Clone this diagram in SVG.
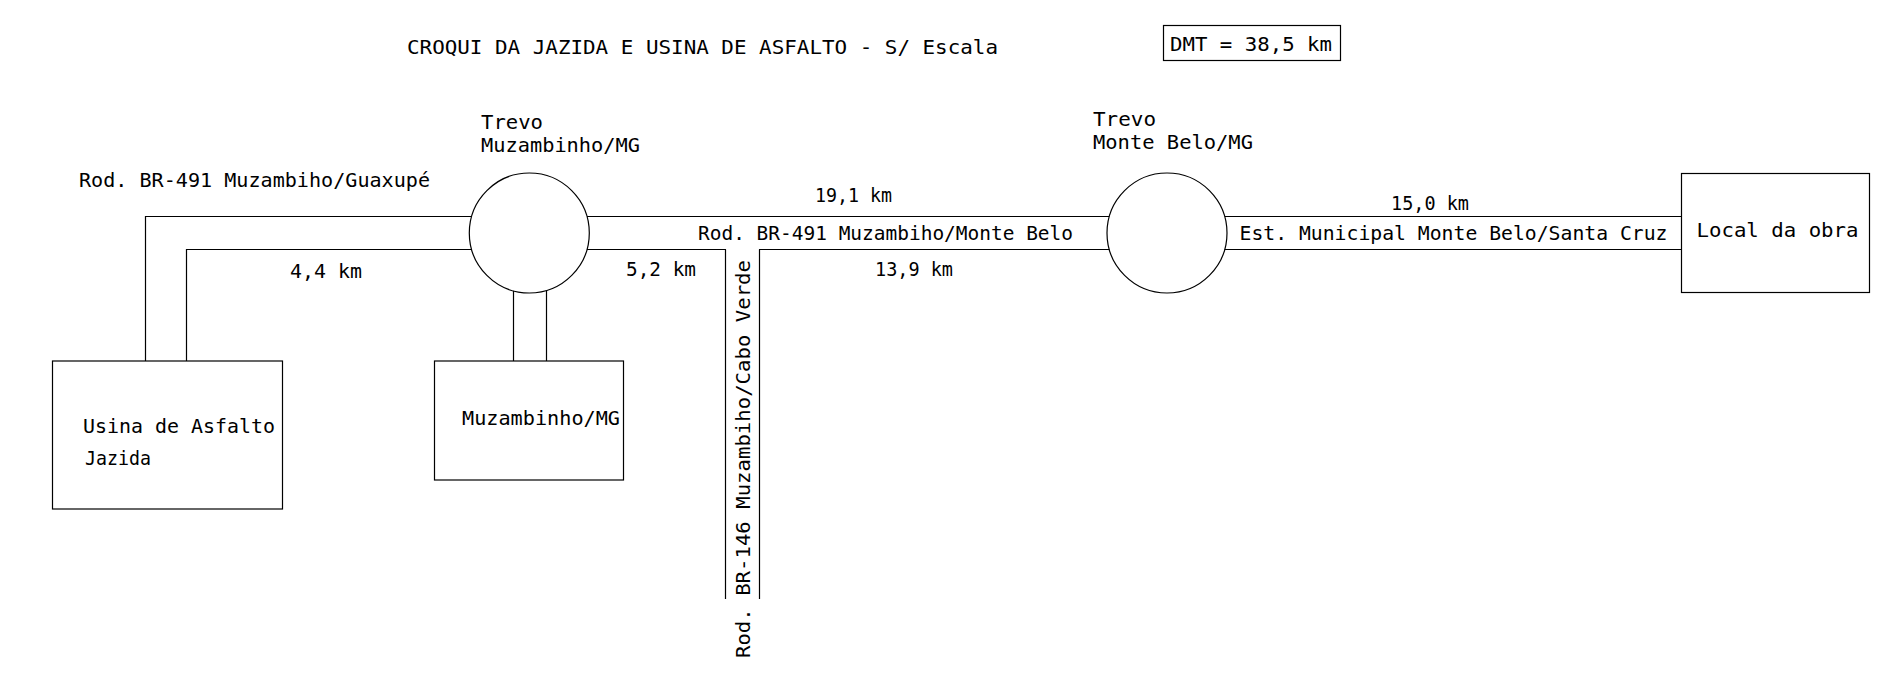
<svg xmlns="http://www.w3.org/2000/svg" width="1877" height="675" viewBox="0 0 1877 675">
<style>
.bg{fill:#ffffff}
.ln{fill:none;stroke:#000;stroke-width:1.2}
.bx{fill:#fff;stroke:#000;stroke-width:1.2}
.t{font-family:"DejaVu Sans Mono","Liberation Mono",monospace;font-size:19px;fill:#000}
</style>
<rect class="bg" x="0" y="0" width="1877" height="675"/>
<g id="title">
<text class="t" x="407" y="54" textLength="591" lengthAdjust="spacingAndGlyphs">CROQUI DA JAZIDA E USINA DE ASFALTO - S/ Escala</text>
</g>
<g id="dmt">
<rect class="bx" x="1163.5" y="25.5" width="177" height="35"/>
<text class="t" x="1170" y="51" textLength="162" lengthAdjust="spacingAndGlyphs">DMT = 38,5 km</text>
</g>
<g id="connectors">
<path class="ln" d="M471.6 216.5 H145.5 V361"/>
<path class="ln" d="M471.6 249.5 H186.5 V361"/>
<path class="ln" d="M513.5 290.8 V361"/>
<path class="ln" d="M546.5 290.4 V361"/>
<path class="ln" d="M587 216.5 H1109.3"/>
<path class="ln" d="M587 249.5 H726"/>
<path class="ln" d="M759 249.5 H1109.3"/>
<path class="ln" d="M725.5 249.5 V599"/>
<path class="ln" d="M759.5 249.5 V599"/>
<path class="ln" d="M1224.7 216.5 H1681"/>
<path class="ln" d="M1224.7 249.5 H1681"/>
</g>
<g id="trevo-muzambinho">
<circle class="ln" cx="529.3" cy="233" r="60"/>
<text class="t" x="481" y="129" textLength="62" lengthAdjust="spacingAndGlyphs">Trevo</text>
<text class="t" x="481" y="151.5" textLength="159" lengthAdjust="spacingAndGlyphs">Muzambinho/MG</text>
</g>
<g id="trevo-montebelo">
<circle class="ln" cx="1167" cy="233" r="60"/>
<text class="t" x="1093" y="126" textLength="63" lengthAdjust="spacingAndGlyphs">Trevo</text>
<text class="t" x="1093" y="149" textLength="160" lengthAdjust="spacingAndGlyphs">Monte Belo/MG</text>
</g>
<g id="usina">
<rect class="bx" x="52.5" y="361" width="230" height="148"/>
<text class="t" x="83" y="433" textLength="192" lengthAdjust="spacingAndGlyphs">Usina de Asfalto</text>
<text class="t" x="85" y="465" textLength="66" lengthAdjust="spacingAndGlyphs">Jazida</text>
</g>
<g id="muzambinho">
<rect class="bx" x="434.5" y="361" width="189" height="119"/>
<text class="t" x="462" y="425" textLength="158" lengthAdjust="spacingAndGlyphs">Muzambinho/MG</text>
</g>
<g id="local-obra">
<rect class="bx" x="1681.5" y="173.5" width="188" height="119"/>
<text class="t" x="1696.5" y="237" textLength="162" lengthAdjust="spacingAndGlyphs">Local da obra</text>
</g>
<g id="labels">
<text class="t" x="79" y="186.5" textLength="351" lengthAdjust="spacingAndGlyphs">Rod. BR-491 Muzambiho/Guaxupé</text>
<text class="t" x="290" y="278" textLength="72" lengthAdjust="spacingAndGlyphs">4,4 km</text>
<text class="t" x="815" y="201.5" textLength="77" lengthAdjust="spacingAndGlyphs">19,1 km</text>
<text class="t" x="698" y="240" textLength="375" lengthAdjust="spacingAndGlyphs">Rod. BR-491 Muzambiho/Monte Belo</text>
<text class="t" x="626" y="275.7" textLength="70" lengthAdjust="spacingAndGlyphs">5,2 km</text>
<text class="t" x="875" y="275.7" textLength="78" lengthAdjust="spacingAndGlyphs">13,9 km</text>
<text class="t" x="1391" y="210" textLength="78" lengthAdjust="spacingAndGlyphs">15,0 km</text>
<text class="t" x="1239.5" y="240" textLength="428" lengthAdjust="spacingAndGlyphs">Est. Municipal Monte Belo/Santa Cruz</text>
<text class="t" transform="translate(750 658) rotate(-90)" x="0" y="0" textLength="398" lengthAdjust="spacingAndGlyphs">Rod. BR-146 Muzambiho/Cabo Verde</text>
</g>
</svg>
